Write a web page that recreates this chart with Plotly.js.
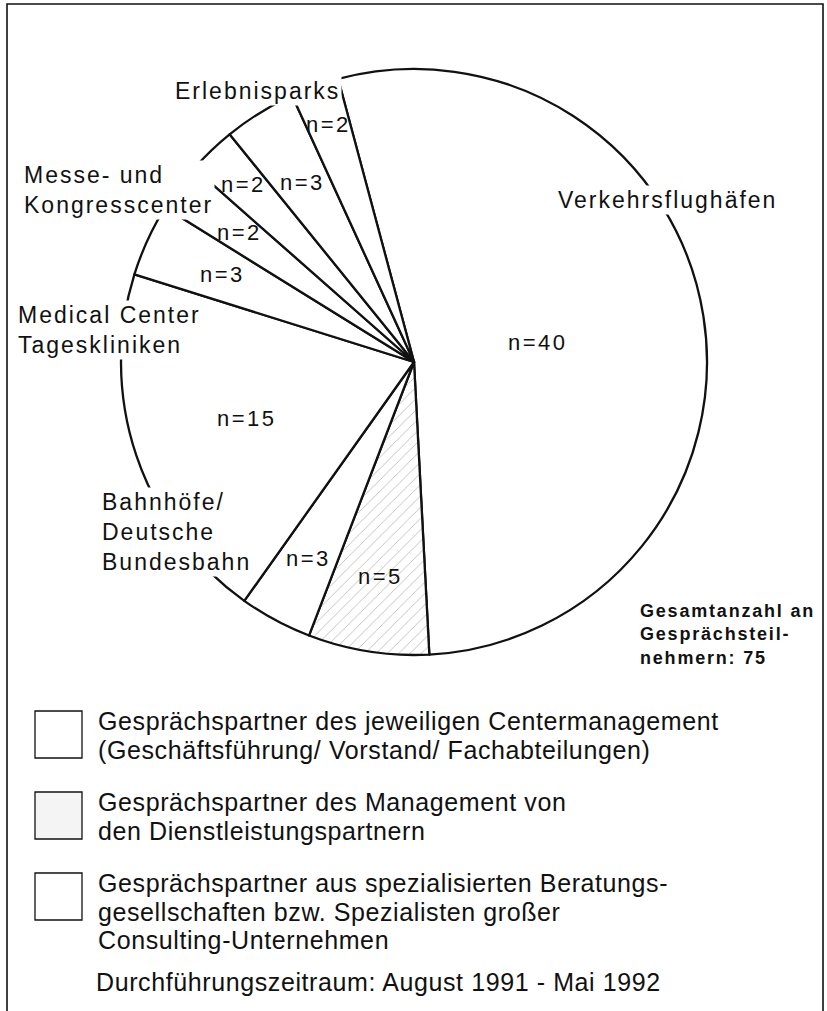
<!DOCTYPE html>
<html>
<head>
<meta charset="utf-8">
<script src="https://cdn.plot.ly/plotly-3.0.1.min.js"></script>
<style>
  html, body { margin: 0; padding: 0; background: #ffffff; }
  #chart { width: 827px; height: 1011px; }
</style>
</head>
<body>
<div id="chart"></div>
<script>
// ---------------- data ----------------
const sliceLabels = [
  'Verkehrsflughäfen – Centermanagement',
  'Verkehrsflughäfen – Dienstleistungspartner',
  'Bahnhöfe – Beratung',
  'Bahnhöfe/Deutsche Bundesbahn',
  'Medical Center Tageskliniken',
  'Messe- und Kongresscenter (a)',
  'Messe- und Kongresscenter (b)',
  'Erlebnisparks (a)',
  'Erlebnisparks (b)'
];
const sliceValues = [40, 5, 3, 15, 3, 2, 2, 3, 2];
const partnerType = ['center', 'service', 'center', 'center', 'center', 'center', 'center', 'center', 'center'];

const categoryNames = [
  'Verkehrsflughäfen',
  'Bahnhöfe/<br>Deutsche<br>Bundesbahn',
  'Medical Center<br>Tageskliniken',
  'Messe- und<br>Kongresscenter',
  'Erlebnisparks'
];
const totalNote = 'Gesamtanzahl an<br>Gesprächsteil-<br>nehmern: 75';
const legendEntries = [
  ['Gesprächspartner des jeweiligen Centermanagement', '(Geschäftsführung/ Vorstand/ Fachabteilungen)'],
  ['Gesprächspartner des Management von', 'den Dienstleistungspartnern'],
  ['Gesprächspartner aus spezialisierten Beratungs-', 'gesellschaften bzw. Spezialisten großer', 'Consulting-Unternehmen']
];
const periodNote = 'Durchführungszeitraum: August 1991 - Mai 1992';

// ---------------- layout / style ----------------
const W = 827, H = 1011;
const CX = 414, CY = 362, R = 293;
const ROT = -15;
const px = x => x / W;
const py = y => 1 - y / H;

const FONT = 'Liberation Sans, Arial, Helvetica, sans-serif';
const labelRadius = [0.43, 0.74, 0.76, 0.6, 0.72, 0.74, 0.84, 0.72, 0.86];

const trace = {
  type: 'pie',
  labels: sliceLabels,
  values: sliceValues,
  sort: false,
  direction: 'clockwise',
  rotation: ROT,
  textinfo: 'none',
  hoverinfo: 'label+value',
  showlegend: false,
  domain: { x: [px(CX - R), px(CX + R)], y: [py(CY + R), py(CY - R)] },
  marker: {
    colors: partnerType.map(() => '#ffffff'),
    line: { color: '#111111', width: 2.3 },
    pattern: {
      shape: partnerType.map(t => t === 'service' ? '/' : ''),
      fgcolor: '#b5b5b5',
      bgcolor: '#ffffff',
      size: 8,
      solidity: 0.1
    }
  }
};

const annotations = [];

// n = ... labels, placed from the data's own angles
const total = sliceValues.reduce((a, b) => a + b, 0);
let cum = 0;
sliceValues.forEach((v, i) => {
  const mid = ROT + (cum + v / 2) / total * 360;
  cum += v;
  const a = mid * Math.PI / 180;
  const rr = labelRadius[i] * R;
  const x = CX + rr * Math.sin(a);
  const y = CY - rr * Math.cos(a);
  annotations.push({
    xref: 'paper', yref: 'paper', x: px(x), y: py(y),
    xanchor: 'center', yanchor: 'middle', showarrow: false,
    text: '<span style="letter-spacing:2.5px">n=' + v + '</span>',
    font: { family: FONT, size: 22, color: '#111111' }
  });
});

// category names (sit on the rim, breaking the arc)
const catPos = [
  { x: 556, y: 200 },
  { x: 100, y: 532 },
  { x: 16,  y: 330 },
  { x: 22,  y: 190 },
  { x: 173, y: 91 }
];
categoryNames.forEach((t, i) => {
  annotations.push({
    xref: 'paper', yref: 'paper', x: px(catPos[i].x), y: py(catPos[i].y),
    xanchor: 'left', yanchor: 'middle', align: 'left', showarrow: false,
    bgcolor: '#ffffff', borderpad: 1,
    text: '<span style="letter-spacing:2px">' + t.split('<br>').join('</span><br><span style="letter-spacing:2px">') + '</span>',
    font: { family: FONT, size: 23, color: '#111111' }
  });
});

// total note
annotations.push({
  xref: 'paper', yref: 'paper', x: px(638), y: py(634),
  xanchor: 'left', yanchor: 'middle', align: 'left', showarrow: false,
  text: totalNote.split('<br>').map(s => '<span style="letter-spacing:1.8px"><b>' + s + '</b></span>').join('<br>'),
  font: { family: FONT, size: 18, color: '#111111' }
});

// legend text lines
const legendBaselines = [[730, 758.5], [811, 839.5], [892, 920.5, 949]];
const LFS = 25;
const LSP = '0.6px';
legendEntries.forEach((lines, k) => {
  lines.forEach((line, j) => {
    annotations.push({
      xref: 'paper', yref: 'paper', x: px(97), y: py(legendBaselines[k][j] - 0.35 * LFS),
      xanchor: 'left', yanchor: 'middle', showarrow: false, borderpad: 0,
      text: '<span style="letter-spacing:' + LSP + '">' + line + '</span>',
      font: { family: FONT, size: LFS, color: '#111111' }
    });
  });
});
annotations.push({
  xref: 'paper', yref: 'paper', x: px(95), y: py(991 - 0.35 * LFS),
  xanchor: 'left', yanchor: 'middle', showarrow: false, borderpad: 0,
  text: '<span style="letter-spacing:' + LSP + '">' + periodNote + '</span>',
  font: { family: FONT, size: LFS, color: '#111111' }
});

// legend swatches and outer frame
const boxTops = [711, 792, 873];
const shapes = boxTops.map((t, k) => ({
  type: 'rect', xref: 'paper', yref: 'paper',
  x0: px(35), x1: px(82), y0: py(t + 47), y1: py(t),
  line: { color: '#111111', width: 1.3 },
  fillcolor: k === 1 ? '#f4f4f4' : '#ffffff'
}));
shapes.push({
  type: 'rect', xref: 'paper', yref: 'paper',
  x0: px(7), x1: px(823), y0: -0.05, y1: py(4),
  line: { color: '#111111', width: 1.6 },
  fillcolor: 'rgba(0,0,0,0)', layer: 'above'
});

const layout = {
  width: W, height: H,
  margin: { l: 0, r: 0, t: 0, b: 0 },
  paper_bgcolor: '#ffffff',
  plot_bgcolor: '#ffffff',
  showlegend: false,
  annotations: annotations,
  shapes: shapes,
  font: { family: FONT, color: '#111111' }
};

Plotly.newPlot('chart', [trace], layout, { displayModeBar: false, staticPlot: true });
</script>
</body>
</html>
